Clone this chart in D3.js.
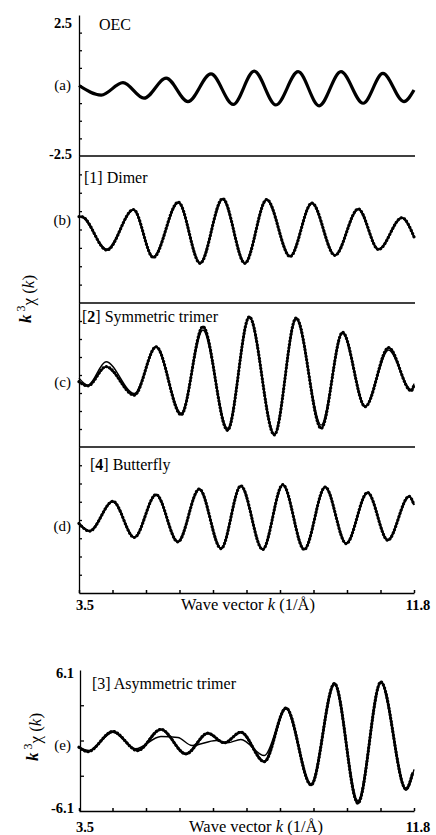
<!DOCTYPE html>
<html>
<head>
<meta charset="utf-8">
<script src="https://cdn.jsdelivr.net/npm/d3@7"></script>
<style>
  body { margin: 0; background: #fff; }
  svg { display: block; font-family: "Liberation Serif", "Times New Roman", serif; }
</style>
</head>
<body>
<div id="chart"></div>
<script>
// k (1/Å) read at the turning points of each curve, and k^3 chi(k) there
const kOec   = [3.50, 4.05, 4.59, 5.11, 5.66, 6.20, 6.77, 7.32, 7.84, 8.38, 8.93, 9.45, 9.99, 10.54, 11.03, 11.55, 11.80];
const chiOec = [0.00, -0.34, 0.10, -0.45, 0.26, -0.57, 0.41, -0.67, 0.51, -0.69, 0.49, -0.72, 0.49, -0.63, 0.43, -0.57, -0.16];

const kDimer    = [3.50, 3.58, 4.19, 4.85, 5.34, 5.96, 6.50, 7.06, 7.61, 8.15, 8.73, 9.27, 9.84, 10.42, 10.92, 11.50, 11.80];
const fitDimer  = [0.45, 0.42, -0.67, 0.66, -0.93, 0.91, -1.13, 1.03, -1.13, 1.00, -0.90, 0.89, -0.87, 0.69, -0.67, 0.39, -0.24];
const dataDimer = [0.44, 0.43, -0.70, 0.68, -0.95, 0.93, -1.15, 1.05, -1.15, 1.02, -0.92, 0.90, -0.88, 0.70, -0.68, 0.40, -0.25];

const kSym    = [3.50, 3.72, 4.17, 4.87, 5.41, 6.03, 6.57, 7.18, 7.72, 8.34, 8.88, 9.50, 10.03, 10.59, 11.17, 11.73, 11.80];
const fitSym  = [-0.11, -0.35, 0.46, -0.64, 0.98, -1.33, 1.56, -1.85, 2.00, -2.05, 1.93, -1.74, 1.45, -1.10, 0.87, -0.50, -0.30];
const dataSym = [-0.23, -0.38, 0.29, -0.70, 0.98, -1.38, 1.68, -1.92, 2.02, -2.08, 1.98, -1.85, 1.48, -1.10, 0.95, -0.55, -0.35];

const kBfly    = [3.50, 3.76, 4.34, 4.87, 5.41, 5.95, 6.48, 7.02, 7.51, 8.05, 8.55, 9.08, 9.60, 10.12, 10.65, 11.15, 11.68, 11.80];
const fitBfly  = [-0.11, -0.37, 0.63, -0.59, 0.86, -0.74, 1.05, -0.97, 1.16, -1.00, 1.20, -1.00, 1.12, -0.80, 0.93, -0.68, 0.80, 0.51];
const dataBfly = [-0.12, -0.38, 0.64, -0.60, 0.87, -0.75, 1.06, -0.98, 1.17, -1.01, 1.21, -1.01, 1.13, -0.81, 0.94, -0.69, 0.81, 0.52];

const kAsymData = [3.50, 3.72, 4.34, 4.95, 5.53, 6.15, 6.69, 7.10, 7.51, 8.09, 8.63, 9.25, 9.83, 10.41, 10.98, 11.60, 11.77];
const dataAsym  = [-0.58, -0.96, 0.78, -0.87, 0.96, -1.16, 0.63, -0.20, 0.72, -1.83, 2.81, -3.85, 4.93, -5.42, 5.07, -4.20, -2.76];
const kAsymFit  = [3.50, 3.75, 4.34, 4.90, 5.53, 5.95, 6.30, 6.90, 7.18, 7.51, 8.09, 8.63, 9.25, 9.83, 10.41, 10.98, 11.60, 11.80];
const fitAsym   = [-0.58, -0.87, 0.72, -0.72, 0.35, 0.26, -0.43, 0.00, -0.20, 0.09, -1.30, 2.75, -3.75, 4.85, -5.20, 5.00, -4.30, -2.50];

const panelIds    = ["(a)", "(b)", "(c)", "(d)"];
const panelTitles = [["OEC"], ["[1] Dimer"], ["[", "2", "] Symmetric trimer"], ["[", "4", "] Butterfly"]];
const topTicks    = [2.5, -2.5];
const asymTicks   = [6.1, -6.1];
const kEnds       = [3.5, 11.8];

const width = 436, height = 835;
const left = 79, right = 414;

const svg = d3.select("#chart").append("svg")
  .attr("width", width)
  .attr("height", height);

const x = d3.scaleLinear().domain([3.5, 11.8]).range([left, right]);
const kTicks = d3.range(11).map(i => 3.5 + i * 0.83);
const minorY = [-1.875, -1.25, -0.625, 0, 0.625, 1.25, 1.875];

const zip = (ks, vs) => ks.map((k, i) => [k, vs[i]]);

// stacked panels a-d
const tops = [15, 156, 303, 447], bottoms = [156, 303, 447, 593];
const idY = [85, 220, 382, 526];
const titleY = [30, 183, 322, 470], titleX = [99, 84, 82, 90];
const panels = [
  {data: zip(kOec, chiOec)},
  {data: zip(kDimer, dataDimer), fit: zip(kDimer, fitDimer)},
  {data: zip(kSym, dataSym), fit: zip(kSym, fitSym)},
  {data: zip(kBfly, dataBfly), fit: zip(kBfly, fitBfly)}
];

function drawCurves(g, y, p, heavy) {
  const line = d3.line().x(d => x(d[0])).y(d => y(d[1])).curve(d3.curveMonotoneX);
  if (heavy) {
    g.append("path").attr("d", line(p.data))
      .attr("fill", "none").attr("stroke", "#000").attr("stroke-width", 3.2)
      .attr("stroke-linejoin", "round");
    return;
  }
  g.append("path").attr("d", line(p.data))
    .attr("fill", "none").attr("stroke", "#000").attr("stroke-width", p.dataWidth || 2);
  // data points
  g.append("path").attr("d", line(p.data))
    .attr("fill", "none").attr("stroke", "#000").attr("stroke-width", 3.2)
    .attr("stroke-linecap", "round").attr("stroke-dasharray", "0.01,3.4");
  g.append("path").attr("d", line(p.fit))
    .attr("fill", "none").attr("stroke", "#000").attr("stroke-width", 1.4);
}

panels.forEach((p, i) => {
  const y = d3.scaleLinear().domain([-2.5, 2.5]).range([bottoms[i], tops[i]]);
  const g = svg.append("g");

  g.append("g")
    .attr("transform", `translate(${left},0)`)
    .call(d3.axisLeft(y).tickValues(minorY).tickSize(-3).tickSizeOuter(0).tickFormat(""))
    .call(a => a.selectAll("path,line").attr("stroke", "#000").attr("stroke-width", 1.3));

  if (i < 3) {
    g.append("line")
      .attr("x1", left).attr("x2", right + 1)
      .attr("y1", bottoms[i]).attr("y2", bottoms[i])
      .attr("stroke", "#000").attr("stroke-width", 1.5);
  }

  drawCurves(g, y, p, i === 0);

  g.append("text")
    .attr("x", 71).attr("y", idY[i]).attr("dy", "0.35em")
    .attr("text-anchor", "end").style("font-size", "15px")
    .text(panelIds[i]);

  const t = g.append("text")
    .attr("x", titleX[i]).attr("y", titleY[i])
    .style("font-size", "16px");
  panelTitles[i].forEach((s, j) => {
    t.append("tspan").attr("font-weight", j === 1 ? "bold" : "normal").text(s);
  });

  if (i === 0) {
    g.selectAll(".yl").data(topTicks).join("text")
      .attr("x", 72).attr("y", d => y(d) + (d > 0 ? 8 : -2)).attr("dy", "0.35em")
      .attr("text-anchor", "end").attr("font-weight", "bold").style("font-size", "14.5px")
      .text(d => d.toFixed(1));
  }
});

function xAxisAt(yPos, labelY, titleCx) {
  svg.append("g")
    .attr("transform", `translate(0,${yPos})`)
    .call(d3.axisBottom(x).tickValues(kTicks).tickSize(-3).tickSizeOuter(0).tickFormat(""))
    .call(a => a.selectAll("path,line").attr("stroke", "#000").attr("stroke-width", 1.5));
  svg.selectAll(null).data(kEnds).join("text")
    .attr("x", d => x(d) + (d === 3.5 ? 6 : 4)).attr("y", labelY)
    .attr("text-anchor", "middle").attr("font-weight", "bold").style("font-size", "14.5px")
    .text(d => d.toFixed(1));
  const t = svg.append("text")
    .attr("x", titleCx).attr("y", labelY)
    .attr("text-anchor", "middle").style("font-size", "16.5px");
  t.append("tspan").text("Wave vector ");
  t.append("tspan").attr("font-style", "italic").text("k");
  t.append("tspan").text(" (1/Å)");
}

xAxisAt(bottoms[3], 610, 248);

function yTitle(cx, cy) {
  const t = svg.append("text")
    .attr("transform", `translate(${cx},${cy}) rotate(-90)`)
    .attr("text-anchor", "middle").style("font-size", "17px");
  t.append("tspan").attr("font-weight", "bold").attr("font-style", "italic").text("k");
  t.append("tspan").attr("dy", "-0.5em").style("font-size", "12px").text(" 3");
  t.append("tspan").attr("dy", "0.5em").text("χ (");
  t.append("tspan").attr("font-style", "italic").text("k");
  t.append("tspan").text(")");
}

yTitle(31, 299);

// panel e, separate plot
const yE = d3.scaleLinear().domain([-6.1, 6.1]).range([811, 670]);
const gE = svg.append("g");
gE.append("g")
  .attr("transform", `translate(${left + 1},0)`)
  .call(d3.axisLeft(yE).tickValues([-3.05, 0, 3.05]).tickSize(-4).tickSizeOuter(0).tickFormat(""))
  .call(a => a.selectAll("path,line").attr("stroke", "#000").attr("stroke-width", 1.3));
drawCurves(gE, yE, {data: zip(kAsymData, dataAsym), fit: zip(kAsymFit, fitAsym), dataWidth: 2.4}, false);
gE.selectAll(".yl").data(asymTicks).join("text")
  .attr("x", 74).attr("y", d => yE(d) + (d > 0 ? 3 : -3)).attr("dy", "0.35em")
  .attr("text-anchor", "end").attr("font-weight", "bold").style("font-size", "14.5px")
  .text(d => d.toFixed(1));
gE.append("text")
  .attr("x", 71).attr("y", 745).attr("dy", "0.35em")
  .attr("text-anchor", "end").style("font-size", "15px")
  .text("(e)");
gE.append("text")
  .attr("x", 92).attr("y", 689).style("font-size", "16px")
  .text("[3] Asymmetric trimer");
xAxisAt(811, 832, 256);
yTitle(38, 737);
</script>
</body>
</html>
